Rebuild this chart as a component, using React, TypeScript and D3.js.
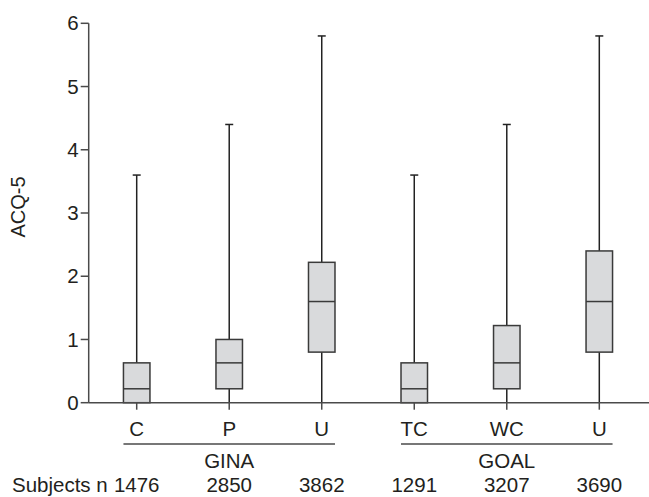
import React from "react";
import * as d3 from "d3";

const categories = ["C", "P", "U", "TC", "WC", "U"];
const groupNames = ["GINA", "GOAL"];
const groupOf = [0, 0, 0, 1, 1, 1];
const whiskerHigh = [3.6, 4.4, 5.8, 3.6, 4.4, 5.8];
const q3 = [0.63, 1.0, 2.22, 0.63, 1.22, 2.4];
const medians = [0.22, 0.63, 1.6, 0.22, 0.63, 1.6];
const q1 = [0, 0.22, 0.8, 0, 0.22, 0.8];
const whiskerLow = [0, 0, 0, 0, 0, 0];
const subjects = [1476, 2850, 3862, 1291, 3207, 3690];
const yTicks = [0, 1, 2, 3, 4, 5, 6];

const W = 649;
const H = 497;
const FONT = "'Liberation Sans', Arial, Helvetica, sans-serif";
const FS = 20.5;
const TXT = "#231f20";

export default function App() {
  const idx = categories.map((_, i) => i);
  const x = d3.scalePoint<number>().domain(idx).range([136.7, 599.3]);
  const y = d3.scaleLinear().domain([0, 6]).range([402.7, 23.3]);
  const axisX = 88.7;
  const boxW = 26.5;
  const capW = 8;

  const groups = groupNames.map((name, g) => {
    const members = idx.filter((i) => groupOf[i] === g);
    const x0 = (x(members[0]) as number) - boxW / 2;
    const x1 = (x(members[members.length - 1]) as number) + boxW / 2;
    return { name, x0, x1 };
  });

  return (
    <svg
      width={W}
      height={H}
      style={{ position: "absolute", left: 0, top: 0, background: "#fff" }}
      fontFamily={FONT}
    >
      {/* y axis */}
      <line x1={axisX} x2={axisX} y1={y(6)} y2={y(0)} stroke="#4a4a4a" strokeWidth={1.5} />
      {yTicks.map((t) => (
        <g key={t}>
          <line x1={axisX - 8} x2={axisX} y1={y(t)} y2={y(t)} stroke="#4a4a4a" strokeWidth={1.5} />
          <text x={axisX - 10} y={y(t)} dy="0.35em" textAnchor="end" fontSize={FS} fill={TXT}>
            {t}
          </text>
        </g>
      ))}
      <text
        transform={`translate(${25},${y(3) - 6}) rotate(-90)`}
        textAnchor="middle"
        fontSize={FS - 0.5}
        fill={TXT}
      >
        ACQ-5
      </text>

      {/* boxes */}
      {idx.map((i) => {
        const cx = x(i) as number;
        return (
          <g key={i}>
            <line x1={cx} x2={cx} y1={y(whiskerHigh[i])} y2={y(q3[i])} stroke="#222" strokeWidth={1.5} />
            <line x1={cx} x2={cx} y1={y(q1[i])} y2={y(whiskerLow[i])} stroke="#222" strokeWidth={1.5} />
            <line
              x1={cx - capW / 2}
              x2={cx + capW / 2}
              y1={y(whiskerHigh[i])}
              y2={y(whiskerHigh[i])}
              stroke="#222"
              strokeWidth={1.5}
            />
            <rect
              x={cx - boxW / 2}
              y={y(q3[i])}
              width={boxW}
              height={y(q1[i]) - y(q3[i])}
              fill="#d9dadc"
              stroke="#3a3a3a"
              strokeWidth={1.5}
            />
            <line
              x1={cx - boxW / 2}
              x2={cx + boxW / 2}
              y1={y(medians[i])}
              y2={y(medians[i])}
              stroke="#3a3a3a"
              strokeWidth={1.5}
            />
          </g>
        );
      })}

      {/* x axis */}
      <line x1={axisX} x2={W} y1={y(0)} y2={y(0)} stroke="#4a4a4a" strokeWidth={1.5} />
      {idx.map((i) => (
        <g key={i}>
          <line
            x1={x(i) as number}
            x2={x(i) as number}
            y1={y(0)}
            y2={y(0) + 7}
            stroke="#4a4a4a"
            strokeWidth={1.5}
          />
          <text x={x(i) as number} y={436} textAnchor="middle" fontSize={FS} fill={TXT}>
            {categories[i]}
          </text>
          <text x={x(i) as number} y={492} textAnchor="middle" fontSize={FS} fill={TXT}>
            {subjects[i]}
          </text>
        </g>
      ))}
      <text x={(x(0) as number) - 29} y={492} textAnchor="end" fontSize={FS} fill={TXT}>
        Subjects n
      </text>

      {groups.map((g) => (
        <g key={g.name}>
          <line x1={g.x0} x2={g.x1} y1={444} y2={444} stroke="#4a4a4a" strokeWidth={1.5} />
          <text x={(g.x0 + g.x1) / 2} y={468} textAnchor="middle" fontSize={FS} fill={TXT}>
            {g.name}
          </text>
        </g>
      ))}
    </svg>
  );
}
